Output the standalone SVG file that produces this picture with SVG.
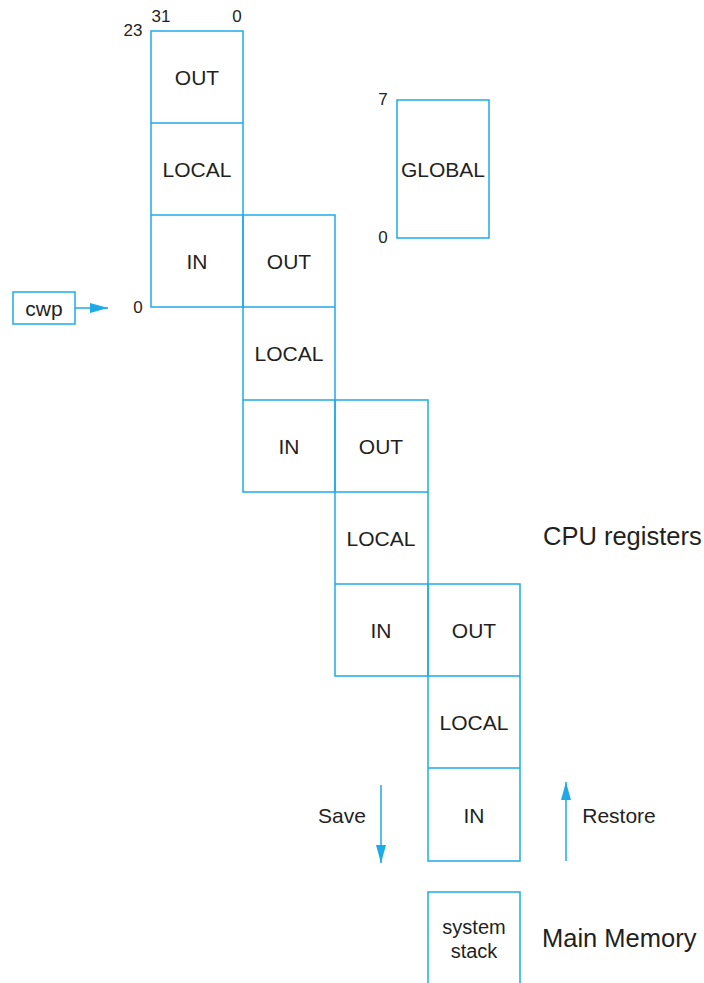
<svg xmlns="http://www.w3.org/2000/svg" width="704" height="983" viewBox="0 0 704 983">
<style>
.b{fill:none;stroke:#1eaae7;stroke-width:1.5}
.t{font-family:"Liberation Sans",Arial,sans-serif;font-size:21px;fill:#231f20;text-anchor:middle}
.s{font-family:"Liberation Sans",Arial,sans-serif;font-size:20px;fill:#231f20;text-anchor:middle}
.n{font-family:"Liberation Sans",Arial,sans-serif;font-size:17px;fill:#231f20;text-anchor:middle}
.l{font-family:"Liberation Sans",Arial,sans-serif;font-size:25.5px;fill:#231f20}
.a{stroke:#1eaae7;stroke-width:1.5;fill:none}
</style>
<defs>
<marker id="ah" viewBox="0 0 18 10" refX="18" refY="5" markerWidth="18" markerHeight="10" markerUnits="userSpaceOnUse" orient="auto">
<path d="M0,0 L18,5 L0,10 Z" fill="#1eaae7"/>
</marker>
</defs>
<g id="window1">
<rect class="b" x="151" y="31" width="92" height="276"/>
<line class="b" x1="151" y1="123" x2="243" y2="123"/>
<line class="b" x1="151" y1="215" x2="243" y2="215"/>
<text class="t" x="197" y="85">OUT</text>
<text class="t" x="197" y="177">LOCAL</text>
<text class="t" x="197" y="269">IN</text>
</g>
<g id="window2">
<rect class="b" x="243" y="215" width="92" height="277"/>
<line class="b" x1="243" y1="307" x2="335" y2="307"/>
<line class="b" x1="243" y1="400" x2="335" y2="400"/>
<text class="t" x="289" y="269">OUT</text>
<text class="t" x="289" y="361">LOCAL</text>
<text class="t" x="289" y="454">IN</text>
</g>
<g id="window3">
<rect class="b" x="335" y="400" width="93" height="276"/>
<line class="b" x1="335" y1="492" x2="428" y2="492"/>
<line class="b" x1="335" y1="584" x2="428" y2="584"/>
<text class="t" x="381" y="454">OUT</text>
<text class="t" x="381" y="546">LOCAL</text>
<text class="t" x="381" y="638">IN</text>
</g>
<g id="window4">
<rect class="b" x="428" y="584" width="92" height="277"/>
<line class="b" x1="428" y1="676" x2="520" y2="676"/>
<line class="b" x1="428" y1="768" x2="520" y2="768"/>
<text class="t" x="474" y="638">OUT</text>
<text class="t" x="474" y="730">LOCAL</text>
<text class="t" x="474" y="823">IN</text>
</g>
<g id="global">
<rect class="b" x="397" y="100" width="92" height="138"/>
<text class="t" x="443" y="177">GLOBAL</text>
</g>
<g id="stack">
<rect class="b" x="428" y="892" width="92" height="100"/>
<text class="s" x="474" y="934">system</text>
<text class="s" x="474" y="958">stack</text>
</g>
<g id="cwp">
<rect class="b" x="13" y="292" width="62" height="32"/>
<text class="t" x="44" y="316">cwp</text>
</g>
<g id="labels">
<text class="n" x="133" y="36">23</text>
<text class="n" x="161" y="22">31</text>
<text class="n" x="237" y="22">0</text>
<text class="n" x="138" y="313">0</text>
<text class="n" x="383" y="105">7</text>
<text class="n" x="383" y="243">0</text>
<text class="l" x="543" y="545">CPU registers</text>
<text class="l" x="542" y="947">Main Memory</text>
<text class="t" x="342" y="823">Save</text>
<text class="t" x="619" y="823">Restore</text>
</g>
<g id="connectors">
<line class="a" x1="75" y1="308" x2="108" y2="308" marker-end="url(#ah)"/>
<line class="a" x1="381" y1="785" x2="381" y2="863" marker-end="url(#ah)"/>
<line class="a" x1="566" y1="861" x2="566" y2="782" marker-end="url(#ah)"/>
</g>
</svg>
